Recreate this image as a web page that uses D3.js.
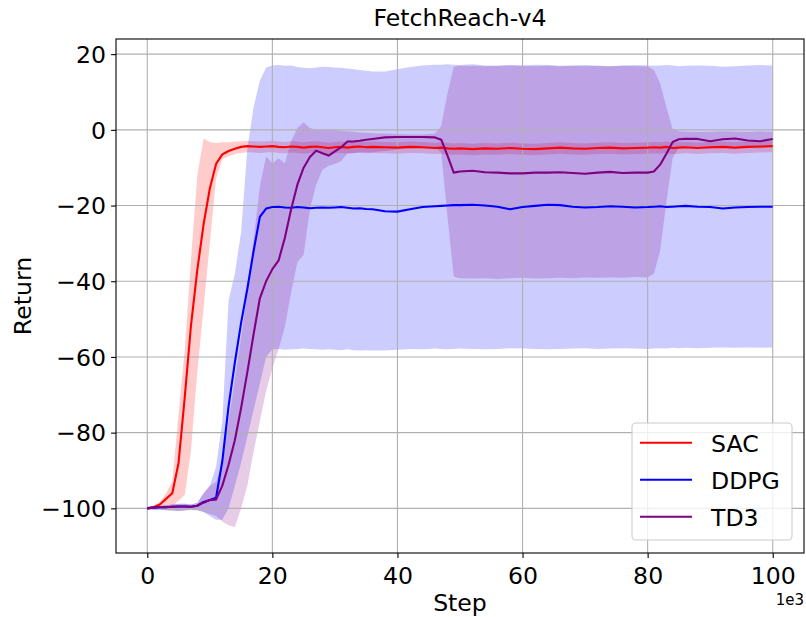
<!DOCTYPE html>
<html><head><meta charset="utf-8">
<script src="https://cdn.jsdelivr.net/npm/d3@7"></script>
<style>body{margin:0;background:#fff;} text{font-family:"DejaVu Sans",sans-serif;fill:#000;}</style>
</head><body><svg id="chart" width="806" height="617"></svg>
<script>
// Step values (thousands)
const steps = [0,1,2,3,4,5,6,7,8,9,10,11,12,13,14,15,16,17,18,19,20,21,22,23,24,25,26,27,28,29,30,31,32,33,34,35,36,38,40,42,44,46,47,48,49,50,52,54,56,58,60,62,64,66,68,70,72,74,76,78,80,81,82,83,84,85,86,88,90,92,94,96,98,100];

const sacMean = [-100,-99.7,-99,-97.5,-96,-88,-70.5,-51.5,-37,-25,
 -15.5,-9,-6.5,-5.6,-5,-4.5,-4.3,-4.4,-4.5,-4.4,
 -4.3,-4.5,-4.6,-4.4,-4.5,-4.7,-4.5,-4.4,-4.6,-4.8,
 -4.6,-4.5,-4.7,-4.5,-4.4,-4.6,-4.5,
 -4.6,-4.7,-4.5,-4.6,-4.8,
 -4.7,-4.9,-5.0,-4.9,
 -5.1,-4.9,-5.0,-4.8,-5.0,-5.1,-4.9,-4.7,-4.9,-5.0,-4.8,-4.7,-4.9,-4.8,-4.7,
 -4.6,-4.7,-4.5,-4.8,-4.7,-4.6,
 -4.8,-4.6,-4.5,-4.7,-4.5,-4.4,-4.3];
const sacUpper = [-99.6,-99.3,-98.3,-96,-93,-75,-58,-34,-12,-2.3,
 -3.2,-3.5,-3.3,-3.3,-3.1,-3.0,-2.9,-3.0,-3.1,-3.0,
 -2.9,-3.1,-3.2,-3.0,-3.1,-3.3,-3.1,-3.0,-3.2,-3.4,
 -3.2,-3.1,-3.3,-3.1,-3.0,-3.2,-3.1,
 -3.2,-3.3,-3.1,-3.2,-3.4,
 -3.3,-3.5,-3.6,-3.5,
 -3.7,-3.5,-3.6,-3.4,-3.6,-3.7,-3.5,-3.3,-3.5,-3.6,-3.4,-3.3,-3.5,-3.4,-3.3,
 -3.2,-3.3,-3.1,-3.4,-3.3,-3.2,
 -3.4,-3.2,-3.1,-3.3,-3.1,-3.0,-2.9];
const sacLower = [-100.3,-100.3,-100.2,-100,-99.5,-98,-96.5,-84.5,-64,-47,
 -30,-13,-7.8,-7,-6.4,-6.1,-5.9,-6.0,-6.1,-6.0,
 -5.9,-6.1,-6.2,-6.0,-6.1,-6.3,-6.1,-6.0,-6.2,-6.4,
 -6.2,-6.1,-6.3,-6.1,-6.0,-6.2,-6.1,
 -6.2,-6.3,-6.1,-6.2,-6.4,
 -6.3,-6.5,-6.6,-6.5,
 -6.7,-6.5,-6.6,-6.4,-6.6,-6.7,-6.5,-6.3,-6.5,-6.6,-6.4,-6.3,-6.5,-6.4,-6.3,
 -6.2,-6.3,-6.1,-6.4,-6.3,-6.2,
 -6.4,-6.2,-6.1,-6.3,-6.1,-6.0,-5.9];

const ddpgMean = [-100,-99.8,-99.7,-99.7,-99.6,-99.5,-99.5,-99.6,-99.3,-98.3,
 -97.8,-97.2,-87.5,-73,-61.5,-51,-42,-32,-23,-20.8,
 -20.4,-20.3,-20.5,-20.6,-20.4,-20.5,-20.7,-20.6,-20.5,-20.6,
 -20.5,-20.4,-20.6,-20.8,-20.7,-20.9,-21.0,
 -21.5,-21.6,-21.0,-20.4,-20.2,
 -20.1,-20.0,-19.9,-19.9,
 -19.8,-20.0,-20.3,-21.0,-20.4,-20.1,-19.8,-19.9,-20.3,-20.5,-20.4,-20.2,-20.3,-20.5,-20.4,
 -20.3,-20.2,-20.4,-20.3,-20.2,-20.1,
 -20.3,-20.4,-20.8,-20.5,-20.4,-20.3,-20.3];
const ddpgUpper = [-99.6,-99.5,-99.4,-99.2,-99,-98.8,-98.8,-99,-98.5,-96,
 -94,-89,-77,-45,-38,-27,-5,6,13,16.5,
 17.0,17.1,16.9,17.0,16.6,16.4,16.3,16.5,16.7,16.6,
 16.5,16.4,16.2,16.0,15.8,15.6,15.4,
 15.4,16.0,16.6,17.0,17.2,
 17.2,17.3,17.2,17.1,
 17.3,17.0,16.9,17.1,17.0,17.2,17.1,16.9,17.0,17.1,16.9,16.8,17.0,17.1,17.0,
 16.9,17.0,17.1,17.0,16.8,16.9,
 17.0,16.9,16.7,16.8,17.0,17.1,17.0];
const ddpgLower = [-100.3,-100.3,-100.4,-100.5,-100.6,-100.7,-100.6,-100.4,-100.5,-101,
 -102,-103,-103,-100,-94,-88,-81,-74,-67,-60,
 -58.0,-57.9,-58.1,-58.0,-57.9,-57.8,-57.9,-58.0,-58.1,-58.0,
 -58.1,-58.2,-58.0,-58.2,-58.3,-58.2,-58.3,
 -58.3,-58.1,-57.9,-58.0,-57.8,
 -57.9,-58.0,-57.9,-57.8,
 -57.9,-58.0,-57.9,-57.7,-57.8,-57.9,-58.0,-57.9,-57.8,-57.7,-57.9,-57.8,-57.7,-57.8,-57.9,
 -57.8,-57.7,-57.8,-57.6,-57.7,-57.6,
 -57.7,-57.6,-57.5,-57.6,-57.5,-57.6,-57.5];

const td3Mean = [-100,-99.8,-99.7,-99.7,-99.6,-99.5,-99.5,-99.6,-99.3,-98.5,
 -97.8,-97.7,-94,-88.5,-82,-73.5,-64,-54,-44.5,-40,
 -36.8,-34.5,-28.5,-21,-14.5,-10,-7.2,-5.5,-6.2,-6.8,
 -5.7,-4.6,-3.1,-3.1,-2.9,-2.6,-2.4,
 -2.0,-1.9,-1.9,-1.9,-2.0,
 -2.6,-6.8,-11.3,-11.0,
 -10.8,-11.2,-11.3,-11.5,-11.5,-11.3,-11.3,-11.2,-11.4,-11.6,-11.3,-11.1,-11.4,-11.3,-11.3,
 -11.0,-9.2,-6.3,-3.2,-2.5,-2.4,
 -2.4,-3.0,-2.5,-2.3,-2.8,-3.0,-2.4];
const td3Upper = [-99.6,-99.5,-99.4,-99.2,-99,-98.8,-98.8,-99,-98.6,-96,
 -94,-93,-88,-77,-66,-55,-43,-29,-15,-7,
 -8.8,-7.5,-8.8,-3,0.5,2,0.5,0,0,0,
 0,-0.3,-0.4,-0.5,-0.7,-0.8,-0.9,
 -1.0,-1.1,-1.2,-1.2,-1.0,
 1.0,9.7,16.7,16.9,
 16.9,16.8,16.9,17.0,16.9,16.8,16.9,16.8,16.9,16.8,16.9,16.8,16.9,16.8,16.8,
 15.8,12.3,6.0,0.2,-0.4,-0.5,
 -0.6,-0.5,-0.4,-0.5,-0.6,-0.4,-0.5];
const td3Lower = [-100.3,-100.3,-100.4,-100.5,-100.6,-100.7,-100.6,-100.4,-100.5,-101,
 -101.5,-102,-103.5,-104.5,-105,-100,-94,-85,-77,-69,
 -63,-58,-52,-43,-35,-33,-21,-14.5,-10.6,-9.5,
 -9,-8.3,-6.2,-6.2,-6.0,-6.0,-5.9,
 -5.6,-5.2,-4.8,-4.5,-4.6,
 -6,-23,-38.8,-39.2,
 -39.3,-39.2,-39.4,-39.2,-39.1,-39.3,-39.2,-39.1,-39.2,-39.0,-39.1,-39.0,-39.1,-38.9,-39.0,
 -38,-32,-19,-7.5,-4.6,-4.4,
 -4.5,-5.0,-4.4,-4.2,-4.7,-4.9,-4.3];

const seriesNames = ["SAC","DDPG","TD3"];
const seriesColors = ["red","blue","purple"];
const xTicks = [0,20,40,60,80,100];
const yTicks = [-100,-80,-60,-40,-20,0,20];
const titleText = "FetchReach-v4";
const xLabel = "Step";
const yLabel = "Return";
const offsetText = "1e3";

const series = [
  {name: seriesNames[0], color: seriesColors[0], mean: sacMean, lo: sacLower, hi: sacUpper},
  {name: seriesNames[1], color: seriesColors[1], mean: ddpgMean, lo: ddpgLower, hi: ddpgUpper},
  {name: seriesNames[2], color: seriesColors[2], mean: td3Mean, lo: td3Lower, hi: td3Upper}
];

const svg = d3.select("#chart");
const L = 116, T = 39, W = 688, H = 514;
const FS = 23.6;
const x = d3.scaleLinear().domain([-5, 105]).range([L, L + W]);
const y = d3.scaleLinear().domain([-111.8, 24]).range([T + H, T]);

const g = svg.append("g");

// fills
series.forEach(s => {
  const area = d3.area()
    .x((d, i) => x(steps[i]))
    .y0((d, i) => y(s.lo[i]))
    .y1((d, i) => y(s.hi[i]));
  g.append("path").datum(steps).attr("d", area)
    .attr("fill", s.color).attr("fill-opacity", 0.2).attr("stroke", "none");
});

// grid
const grid = g.append("g");
xTicks.forEach(t => grid.append("line").attr("x1", x(t)).attr("x2", x(t)).attr("y1", T).attr("y2", T + H)
  .attr("stroke", "#b0b0b0").attr("stroke-width", 1.1));
yTicks.forEach(t => grid.append("line").attr("x1", L).attr("x2", L + W).attr("y1", y(t)).attr("y2", y(t))
  .attr("stroke", "#b0b0b0").attr("stroke-width", 1.1));

// lines
series.forEach(s => {
  const line = d3.line().x((d, i) => x(steps[i])).y((d, i) => y(s.mean[i]));
  g.append("path").datum(steps).attr("d", line)
    .attr("fill", "none").attr("stroke", s.color).attr("stroke-width", 2.1).attr("stroke-linejoin", "round");
});

// axes
const xAxis = d3.axisBottom(x).tickValues(xTicks).tickSize(4.9).tickPadding(4.5).tickFormat(d3.format("d"));
const yAxis = d3.axisLeft(y).tickValues(yTicks).tickSize(4.9).tickPadding(4.5).tickFormat(d3.format("d"));
const gx = svg.append("g").attr("transform", `translate(0,${T + H})`).call(xAxis);
const gy = svg.append("g").attr("transform", `translate(${L},0)`).call(yAxis);
[gx, gy].forEach(a => {
  a.select(".domain").remove();
  a.selectAll(".tick line").attr("stroke", "#000").attr("stroke-width", 1.1);
  a.selectAll(".tick text").attr("font-size", FS).attr("font-family", "DejaVu Sans").attr("fill", "#000");
});
gx.selectAll(".tick text").attr("dy", null).attr("y", 30.5);
gy.selectAll(".tick text").attr("dy", "0.35em").attr("x", -10);

// frame
svg.append("rect").attr("x", L).attr("y", T).attr("width", W).attr("height", H)
  .attr("fill", "none").attr("stroke", "#000").attr("stroke-width", 1.1);

// title & labels
svg.append("text").attr("x", L + W / 2).attr("y", 26).attr("text-anchor", "middle").attr("font-size", FS).text(titleText);
svg.append("text").attr("x", L + W / 2).attr("y", 611).attr("text-anchor", "middle").attr("font-size", FS).text(xLabel);
svg.append("text").attr("transform", `translate(31,${T + H / 2}) rotate(-90)`).attr("text-anchor", "middle").attr("font-size", FS).text(yLabel);
svg.append("text").attr("x", L + W).attr("y", 605).attr("text-anchor", "end").attr("font-size", 15).text(offsetText);

// legend
const lg = svg.append("g");
lg.append("rect").attr("x", 632).attr("y", 423).attr("width", 160).attr("height", 117).attr("rx", 4)
  .attr("fill", "#fff").attr("fill-opacity", 0.8).attr("stroke", "#cccccc").attr("stroke-width", 1.1);
series.forEach((s, i) => {
  const yy = 442.7 + i * 37;
  lg.append("line").attr("x1", 640).attr("x2", 692).attr("y1", yy).attr("y2", yy)
    .attr("stroke", s.color).attr("stroke-width", 2.1);
  lg.append("text").attr("x", 711).attr("y", yy + 9).attr("font-size", FS).text(s.name);
});
</script>
</body></html>
